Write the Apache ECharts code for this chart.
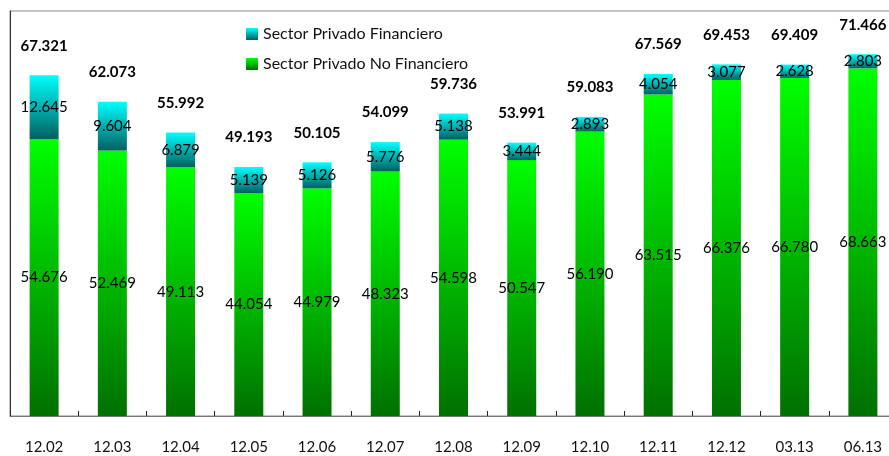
<!DOCTYPE html>
<html>
<head>
<meta charset="utf-8">
<script src="https://cdn.jsdelivr.net/npm/echarts@6/dist/echarts.min.js"></script>
<style>
html,body{margin:0;padding:0;background:#fff;}
#chart{width:889px;height:456px;}
</style>
</head>
<body>
<div id="chart"></div>
<script>
// periodos
var categorias = ['12.02','12.03','12.04','12.05','12.06','12.07','12.08','12.09','12.10','12.11','12.12','03.13','06.13'];
// Sector Privado No Financiero
var noFinanciero = [54.676,52.469,49.113,44.054,44.979,48.323,54.598,50.547,56.190,63.515,66.376,66.780,68.663];
// Sector Privado Financiero
var financiero = [12.645,9.604,6.879,5.139,5.126,5.776,5.138,3.444,2.893,4.054,3.077,2.628,2.803];
// totales (tal como aparecen)
var totales = [67.321,62.073,55.992,49.193,50.105,54.099,59.736,53.991,59.083,67.569,69.453,69.409,71.466];

var fuente = 'Lato';

function degradado(arriba, abajo){
	return new echarts.graphic.LinearGradient(0,0,0,1,[
		{offset:0,color:arriba},
		{offset:1,color:abajo}
	]);
}

function fmt(v){
	return v.toFixed(3);
}

var myChart = echarts.init(document.getElementById('chart'));

var option = {
	animation:false,
	textStyle:{fontFamily:fuente},
	legend:{
		data:['Sector Privado Financiero','Sector Privado No Financiero'],
		orient:'vertical',
		left:241,
		top:21,
		itemWidth:12,
		itemHeight:12,
		itemGap:14,
		icon:'rect',
		textStyle:{fontFamily:fuente,fontSize:16,color:'#111'}
	},
	grid:{
		left:10,
		top:11,
		width:887,
		height:405,
		outerBoundsMode:'none',
		show:true,
		borderColor:'#888',
		borderWidth:1
	},
	xAxis:{
		type:'category',
		data:categorias,
		axisLine:{lineStyle:{color:'#777'}},
		axisTick:{show:true,lineStyle:{color:'#222'},length:-5},
		axisLabel:{fontFamily:fuente,fontSize:15,color:'#111',margin:24}
	},
	yAxis:{
		type:'value',
		min:0,
		max:80,
		axisLine:{show:true,lineStyle:{color:'#333'}},
		axisTick:{show:false},
		axisLabel:{show:false},
		splitLine:{show:false}
	},
	series:[
		{
			name:'Sector Privado No Financiero',
			type:'bar',
			stack:'total',
			barWidth:29,
			data:noFinanciero,
			itemStyle:{color:degradado('#00ff00','#007000')},
			label:{
				show:true,
				position:'inside',
				fontFamily:fuente,
				fontSize:15,
				color:'#000',
				formatter:function(p){return fmt(p.value);}
			}
		},
		{
			name:'Sector Privado Financiero',
			type:'bar',
			stack:'total',
			barWidth:29,
			data:financiero,
			itemStyle:{color:degradado('#00ffff','#006060')},
			label:{
				show:true,
				position:'inside',
				fontFamily:fuente,
				fontSize:15,
				color:'#000',
				formatter:function(p){return fmt(p.value);}
			}
		},
		{
			name:'Total',
			type:'bar',
			stack:'total',
			barWidth:29,
			data:categorias.map(function(){return 0;}),
			itemStyle:{color:'transparent'},
			label:{
				show:true,
				position:'top',
				distance:22,
				fontFamily:fuente,
				fontSize:15,
				fontWeight:'bold',
				color:'#000',
				formatter:function(p){return fmt(totales[p.dataIndex]);}
			}
		}
	]
};

myChart.setOption(option);
</script>
</body>
</html>
